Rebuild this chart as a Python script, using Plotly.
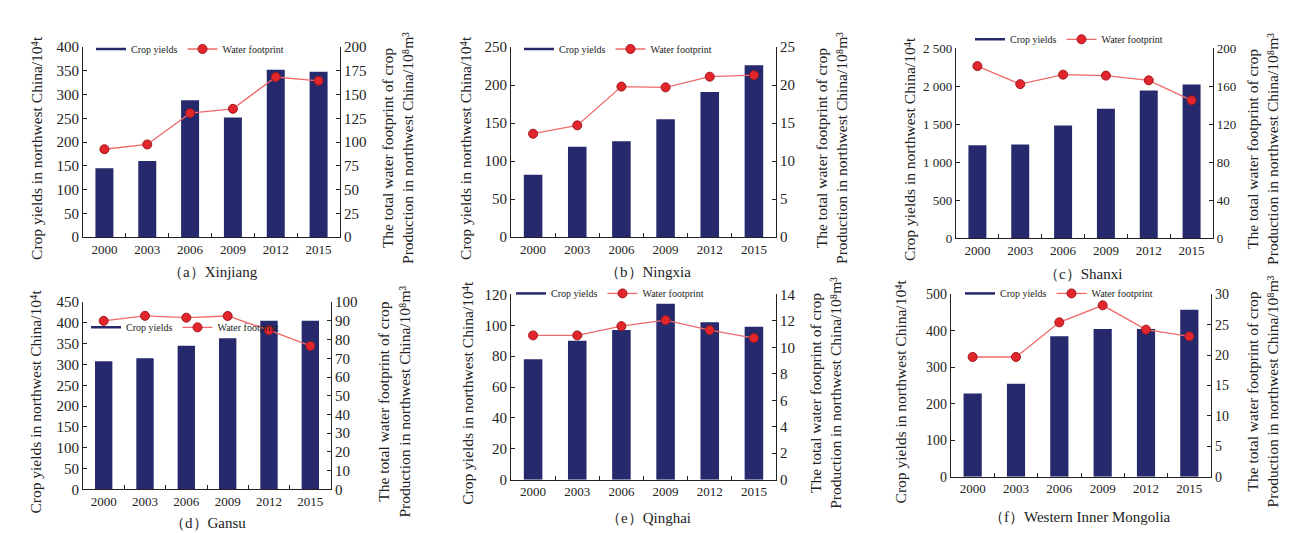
import plotly.graph_objects as go

years = ["2000", "2003", "2006", "2009", "2012", "2015"]

xinjiang_yield = [145, 160, 288, 252, 352, 348]
xinjiang_wf = [92.5, 97.5, 130.5, 135, 168.5, 164.5]

ningxia_yield = [82, 119, 126, 155, 191, 226]
ningxia_wf = [13.6, 14.7, 19.8, 19.7, 21.1, 21.3]

shanxi_yield = [1220, 1230, 1480, 1700, 1940, 2020]
shanxi_wf = [181, 162, 172, 171, 166, 145]

gansu_yield = [308, 315, 345, 363, 405, 405]
gansu_wf = [90, 92.7, 91.7, 92.6, 85, 76.6]

qinghai_yield = [78, 90, 97, 114, 102, 99]
qinghai_wf = [10.9, 10.9, 11.6, 12.05, 11.3, 10.7]

mongolia_yield = [228, 255, 385, 405, 405, 458]
mongolia_wf = [19.7, 19.7, 25.4, 28.2, 24.2, 23.1]

captions = ["（a）Xinjiang", "（b）Ningxia", "（c）Shanxi",
            "（d）Gansu", "（e）Qinghai", "（f）Western Inner Mongolia"]

left_title = "Crop yields in northwest China/10⁴t"
right_title = "The total water footprint of crop<br>Production in northwest China/10⁸m³"
legend_names = ["Crop yields", "Water footprint"]

W, H = 1289, 533
BAR = "#262a6c"
RED = "#e3262b"
LINE = "#f06a6a"
FONT = "Liberation Serif, Times New Roman, serif"

panels = [
    dict(yld=xinjiang_yield, wf=xinjiang_wf, box=(75, 332, 32, 228), yr=(400, 50), wr=(200, 25),
         leg=(83, 34), cap=(205, 264), lt=46, rt=58, tf=15),
    dict(yld=ningxia_yield, wf=ningxia_wf, box=(503, 768, 32, 228), yr=(250, 50), wr=(25, 5),
         leg=(511, 34), cap=(640, 264), lt=45, rt=56, tf=15),
    dict(yld=shanxi_yield, wf=shanxi_wf, box=(948, 1205, 33, 229), yr=(2500, 500), wr=(200, 40),
         leg=(962, 24), cap=(1075, 266), lt=46, rt=50, tf=13),
    dict(yld=gansu_yield, wf=gansu_wf, box=(75, 323, 295, 488), yr=(450, 50), wr=(100, 10),
         leg=(78, 321), cap=(200, 523), lt=47, rt=63, tf=15),
    dict(yld=qinghai_yield, wf=qinghai_wf, box=(503, 768, 287, 478), yr=(120, 20), wr=(14, 2),
         leg=(503, 286), cap=(640, 518), lt=43, rt=50, tf=15),
    dict(yld=mongolia_yield, wf=mongolia_wf, box=(943, 1203, 287, 475), yr=(500, 100), wr=(30, 5),
         leg=(952, 286), cap=(1072, 516), lt=51, rt=51, tf=14),
]

fig = go.Figure()
layout = dict(
    width=W, height=H, margin=dict(l=0, r=0, t=0, b=0),
    paper_bgcolor="white", plot_bgcolor="white",
    font=dict(family=FONT, color="#222", size=12),
    separators=". ",
    annotations=[],
)

def fx(px):
    return px / W

def fy(py):
    return 1 - py / H

for i, p in enumerate(panels):
    n = i + 1
    xa = "x" if n == 1 else f"x{n}"
    ya = "y" if n == 1 else f"y{2*n-1}"
    yb = f"y{2*n}"
    lg = "legend" if n == 1 else f"legend{n}"
    x0, x1, y0, y1 = p["box"]

    fig.add_trace(go.Bar(x=years, y=p["yld"], marker=dict(color=BAR, line=dict(width=0)),
                         width=0.42, xaxis=xa, yaxis=ya, showlegend=False, name=legend_names[0]))
    # legend entry drawn as a line (as in the reference)
    fig.add_trace(go.Scatter(x=[None], y=[None], mode="lines", line=dict(color=BAR, width=2.5),
                             name=legend_names[0], xaxis=xa, yaxis=ya, legend=lg))
    fig.add_trace(go.Scatter(x=years, y=p["wf"], mode="lines+markers",
                             line=dict(color=LINE, width=1.3),
                             marker=dict(color=RED, size=9, line=dict(color="#a01820", width=1)),
                             name=legend_names[1], xaxis=xa, yaxis=yb, legend=lg))

    xkey = "xaxis" if n == 1 else f"xaxis{n}"
    yak = "yaxis" if n == 1 else f"yaxis{2*n-1}"
    ybk = f"yaxis{2*n}"
    layout[xkey] = dict(domain=[fx(x0), fx(x1)], anchor=ya,
                        type="category", range=[-0.5, 5.5], showline=True, linecolor="#222",
                        linewidth=1.2, ticks="inside", tickson="boundaries", ticklen=4,
                        tickcolor="#222", tickfont=dict(size=13, family=FONT), showgrid=False,
                        zeroline=False)
    layout[yak] = dict(domain=[fy(y1), fy(y0)], anchor=xa, range=[0, p["yr"][0]], dtick=p["yr"][1],
                       tick0=0, showline=True, linecolor="#222", linewidth=1.2, ticks="inside",
                       ticklen=4, tickcolor="#222", tickfont=dict(size=p["tf"], family=FONT),
                       showgrid=False, zeroline=False, tickformat=",d")
    layout[ybk] = dict(overlaying=ya, anchor=xa, side="right", range=[0, p["wr"][0]], dtick=p["wr"][1],
                       tick0=0, showline=True, linecolor="#222", linewidth=1.2, ticks="inside",
                       ticklen=4, tickcolor="#222", tickfont=dict(size=p["tf"], family=FONT),
                       showgrid=False, zeroline=False)
    layout[lg] = dict(x=fx(p["leg"][0]), y=fy(p["leg"][1]), xanchor="left", yanchor="middle",
                      orientation="h", bgcolor="rgba(0,0,0,0)", font=dict(size=10, family=FONT),
                      itemwidth=30)

    layout["annotations"].append(dict(text=left_title, x=fx(x0 - p["lt"]), y=fy((y0 + y1) / 2 + 6),
                                      xref="paper", yref="paper", textangle=-90, showarrow=False,
                                      font=dict(size=15.5, family=FONT), xanchor="center", yanchor="middle"))
    layout["annotations"].append(dict(text=right_title, x=fx(x1 + p["rt"]), y=fy((y0 + y1) / 2 + 6),
                                      xref="paper", yref="paper", textangle=-90, showarrow=False,
                                      font=dict(size=15.5, family=FONT), xanchor="center", yanchor="middle"))
    layout["annotations"].append(dict(text=captions[i], x=fx(p["cap"][0]), y=fy(p["cap"][1]),
                                      xref="paper", yref="paper", showarrow=False,
                                      font=dict(size=15, family=FONT), xanchor="center", yanchor="middle"))

fig.update_layout(**layout)
fig.write_html("out.html")
